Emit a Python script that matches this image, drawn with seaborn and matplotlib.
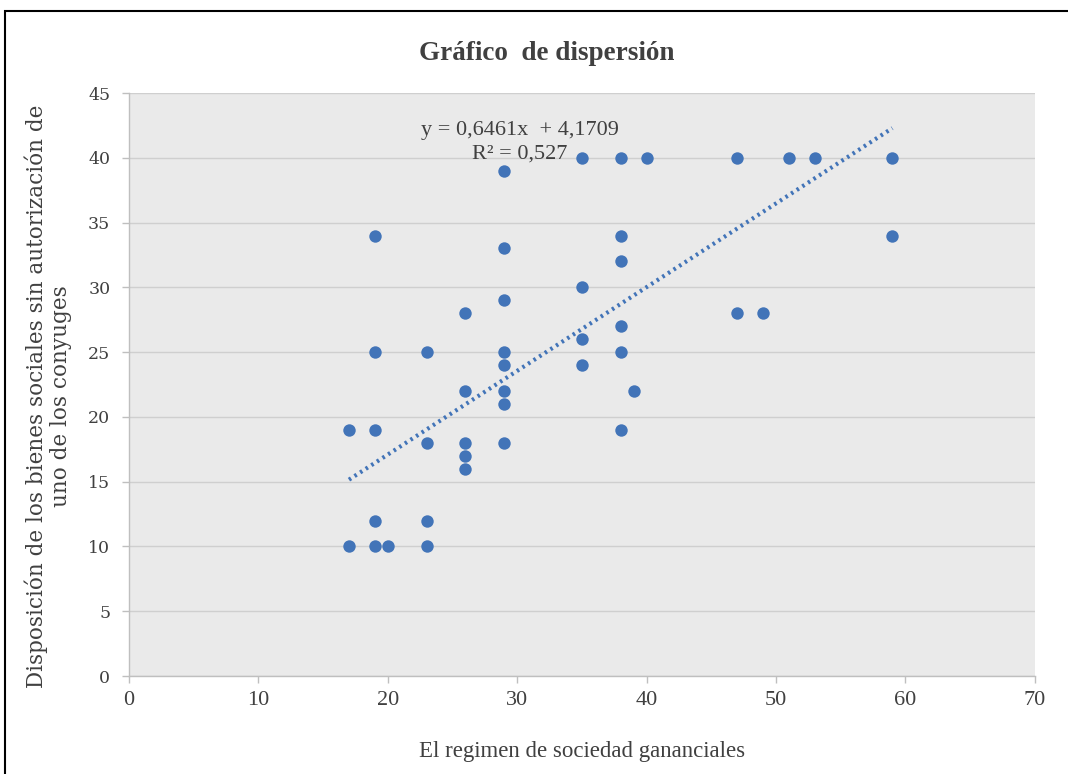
import numpy as np
import pandas as pd
import matplotlib
matplotlib.use("Agg")
import matplotlib.pyplot as plt
import seaborn as sns

# Values
regimen = [17, 17, 19, 19, 19, 19, 19, 20, 23, 23, 23, 23,
           26, 26, 26, 26, 26, 29, 29, 29, 29, 29, 29, 29, 29,
           35, 35, 35, 35, 38, 38, 38, 38, 38, 38, 39, 40,
           47, 47, 49, 51, 53, 59, 59]
disposicion = [19, 10, 34, 25, 19, 12, 10, 10, 25, 18, 12, 10,
               28, 22, 18, 17, 16, 39, 33, 29, 25, 24, 22, 21, 18,
               40, 30, 26, 24, 40, 34, 32, 27, 25, 19, 22, 40,
               40, 28, 28, 40, 40, 40, 34]

slope = 0.6461
intercept = 4.1709
r2 = "0,527"

x_ticks = [0, 10, 20, 30, 40, 50, 60, 70]
y_ticks = [0, 5, 10, 15, 20, 25, 30, 35, 40, 45]

df = pd.DataFrame({"x": regimen, "y": disposicion})
trend_x = np.array([min(regimen), max(regimen)])
trend = pd.DataFrame({"x": trend_x, "y": slope * trend_x + intercept})

sns.set_theme(style="white")
plt.rcParams["font.family"] = ["Liberation Serif", "DejaVu Serif"]

blue = "#4274b8"
text_col = "#404040"
slab = ["DejaVu Serif"]

fig = plt.figure(figsize=(10.68, 7.74), dpi=100)
ax = fig.add_axes([0.1208, 0.1266, 0.848, 0.7532])
ax.set_facecolor("#eaeaea")

# outer chart border (right and bottom edges fall outside the image)
fig.patches.append(plt.Rectangle((5 / 1068, -0.02), 1.1, 1 - 11 / 774 + 0.02,
                                 transform=fig.transFigure, fill=False,
                                 edgecolor="black", linewidth=1.5))

sns.lineplot(data=trend, x="x", y="y", ax=ax, color=blue, linestyle=(0, (0.6, 1.0)),
             linewidth=3, zorder=2)
sns.scatterplot(data=df, x="x", y="y", ax=ax, color=blue, s=80, edgecolor=blue,
                linewidth=0, zorder=3)

ax.set_xlim(0, 70)
ax.set_ylim(0, 45)
ax.set_xticks(x_ticks)
ax.set_yticks(y_ticks)
ax.yaxis.grid(True, color="#cfcfcf", linewidth=1)
ax.xaxis.grid(False)
ax.set_axisbelow(True)

for side in ["top", "right"]:
    ax.spines[side].set_visible(False)
for side in ["left", "bottom"]:
    ax.spines[side].set_color("#bfbfbf")
    ax.spines[side].set_linewidth(1)

ax.tick_params(axis="both", direction="out", length=5, width=1, color="#bfbfbf",
               labelcolor=text_col, pad=6)
ax.tick_params(axis="x", bottom=True, labelsize=16)
ax.tick_params(axis="y", left=True, labelsize=12.5, pad=8.5)
for lab in ax.get_yticklabels():
    lab.set_family(slab)

ax.text(30.2, 41.2, "y = 0,6461x  + 4,1709\nR² = " + r2, ha="center", va="center",
        multialignment="center", fontsize=16, color=text_col, linespacing=1.3)

fig.text(0.512, 0.931, "Gráfico  de dispersión", ha="center", va="center",
         fontsize=19.5, fontweight="bold", color=text_col)
ax.set_xlabel("El regimen de sociedad gananciales", fontsize=16.5, color=text_col, labelpad=22)
ax.set_ylabel("Disposición de los bienes sociales sin autorización de\nuno de los conyuges",
              fontsize=15.5, color=text_col, linespacing=1.1, family=slab)
ax.yaxis.set_label_coords(-0.063, 0.48)

fig.savefig("out.png", dpi=100)
